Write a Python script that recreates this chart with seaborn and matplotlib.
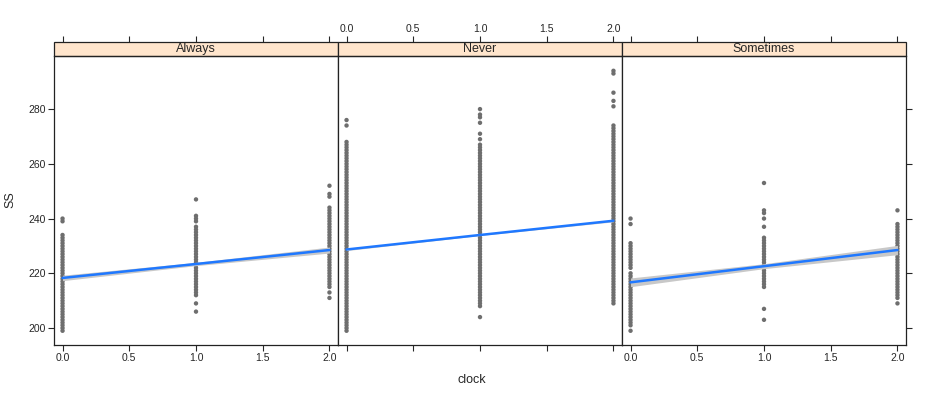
import numpy as np
import pandas as pd
import matplotlib
matplotlib.use("Agg")
import matplotlib.pyplot as plt
from matplotlib.patches import Rectangle
import seaborn as sns

panels = ["Always", "Never", "Sometimes"]
clock_levels = [0, 1, 2]
x_ticks = [0.0, 0.5, 1.0, 1.5, 2.0]
x_tick_labels = ["0.0", "0.5", "1.0", "1.5", "2.0"]
y_ticks = [200, 220, 240, 260, 280]

# SS values visible in each strip, per clock level 0 / 1 / 2
always_ss = [
    [199, 200, 201, 202, 203, 204, 205, 206, 207, 208, 209, 210, 211, 212, 213, 214, 215, 216, 217,
     218, 219, 220, 221, 222, 223, 224, 225, 226, 227, 228, 229, 230, 231, 232, 233, 234, 239, 240],
    [206, 209, 212, 213, 214, 215, 216, 217, 218, 219, 220, 221, 222, 223, 224, 225, 226, 227, 228,
     229, 230, 231, 232, 233, 234, 235, 236, 237, 239, 240, 241, 247],
    [211, 213, 215, 216, 217, 218, 219, 220, 221, 222, 223, 224, 225, 226, 227, 228, 229, 230, 231,
     232, 233, 234, 235, 236, 237, 238, 239, 240, 241, 242, 243, 244, 248, 249, 252],
]
never_ss = [
    [199, 200, 201, 202, 203, 204, 205, 206, 207, 208, 209, 210, 211, 212, 213, 214, 215, 216, 217,
     218, 219, 220, 221, 222, 223, 224, 225, 226, 227, 228, 229, 230, 231, 232, 233, 234, 235, 236,
     237, 238, 239, 240, 241, 242, 243, 244, 245, 246, 247, 248, 249, 250, 251, 252, 253, 254, 255,
     256, 257, 258, 259, 260, 261, 262, 263, 264, 265, 266, 267, 268, 274, 276],
    [204, 208, 209, 210, 211, 212, 213, 214, 215, 216, 217, 218, 219, 220, 221, 222, 223, 224, 225,
     226, 227, 228, 229, 230, 231, 232, 233, 234, 235, 236, 237, 238, 239, 240, 241, 242, 243, 244,
     245, 246, 247, 248, 249, 250, 251, 252, 253, 254, 255, 256, 257, 258, 259, 260, 261, 262, 263,
     264, 265, 266, 267, 269, 271, 275, 277, 278, 280],
    [209, 210, 211, 212, 213, 214, 215, 216, 217, 218, 219, 220, 221, 222, 223, 224, 225, 226, 227,
     228, 229, 230, 231, 232, 233, 234, 235, 236, 237, 238, 239, 240, 241, 242, 243, 244, 245, 246,
     247, 248, 249, 250, 251, 252, 253, 254, 255, 256, 257, 258, 259, 260, 261, 262, 263, 264, 265,
     266, 267, 268, 269, 270, 271, 272, 273, 274, 281, 283, 286, 293, 294],
]
sometimes_ss = [
    [199, 201, 202, 203, 204, 205, 206, 207, 208, 209, 210, 211, 212, 213, 214, 215, 216, 217, 218,
     219, 220, 222, 223, 224, 225, 226, 227, 228, 229, 230, 231, 238, 240],
    [203, 207, 215, 216, 217, 218, 219, 220, 221, 222, 223, 224, 225, 226, 227, 228, 229, 230, 231,
     232, 233, 237, 240, 242, 243, 253],
    [209, 211, 212, 213, 214, 215, 216, 217, 218, 219, 220, 221, 222, 223, 224, 225, 226, 227, 228,
     229, 230, 231, 232, 233, 234, 235, 236, 237, 238, 243],
]

# fitted line and confidence band at clock 0 / 1 / 2
always_fit = [218.3, 223.4, 228.5]
always_lo = [217.3, 222.8, 227.4]
always_hi = [219.3, 224.0, 229.6]
never_fit = [228.7, 234.0, 239.2]
never_lo = [228.3, 233.8, 238.8]
never_hi = [229.1, 234.2, 239.6]
sometimes_fit = [216.7, 222.6, 228.5]
sometimes_lo = [215.1, 221.7, 226.8]
sometimes_hi = [218.3, 223.5, 230.2]

rows = []
for name, groups in zip(panels, [always_ss, never_ss, sometimes_ss]):
    for clk, vals in zip(clock_levels, groups):
        for v in vals:
            rows.append({"panel": name, "clock": clk, "SS": v})
df = pd.DataFrame(rows)

fit_df = pd.DataFrame({
    "panel": np.repeat(panels, 3),
    "clock": clock_levels * 3,
    "fit": always_fit + never_fit + sometimes_fit,
    "lo": always_lo + never_lo + sometimes_lo,
    "hi": always_hi + never_hi + sometimes_hi,
})

sns.set_style("white")
plt.rcParams["font.family"] = ["Liberation Sans", "DejaVu Sans"]

g = sns.FacetGrid(df, col="panel", col_order=panels, sharex=True, sharey=True,
                  despine=False, height=3, aspect=1)
g.map_dataframe(sns.scatterplot, x="clock", y="SS", color="#6e6e6e", s=10,
                linewidth=0, edgecolor="none")

fig = g.figure
fig.set_size_inches(9.36, 3.96)
fig.set_dpi(100)

left, width = 54 / 936, 284 / 936
bottom, height = 1 - 345 / 396, 289 / 396
strip_h = 14 / 289

for i, (ax, name) in enumerate(zip(g.axes.flat, panels)):
    sub = fit_df[fit_df["panel"] == name]
    ax.fill_between(sub["clock"], sub["lo"], sub["hi"], color="#c8c8c8", lw=0, zorder=3)
    sns.lineplot(data=sub, x="clock", y="fit", ax=ax, color="#1f78ff", lw=1.8, zorder=4)

    ax.set_position([left + i * width, bottom, width, height])
    ax.set_xlim(-0.064, 2.064)
    ax.set_ylim(193.8, 299.4)
    ax.set_title("")
    ax.set_xlabel("")
    ax.set_ylabel("")
    for sp in ax.spines.values():
        sp.set_color("#222222")
        sp.set_linewidth(0.9)

    ax.add_patch(Rectangle((0, 1), 1, strip_h, transform=ax.transAxes, clip_on=False,
                           facecolor="#ffe5cc", edgecolor="#222222", lw=0.9))
    ax.text(0.5, 1 + strip_h / 2, name, transform=ax.transAxes, ha="center",
            va="center", fontsize=9)

    ax.set_xticks(x_ticks)
    ax.set_xticklabels(x_tick_labels)
    ax.tick_params(axis="x", direction="out", length=4, width=0.8, labelsize=7.5,
                   bottom=True, labelbottom=(i != 1), pad=2)
    ax.set_yticks(y_ticks)
    if i == 0:
        ax.tick_params(axis="y", direction="out", length=4, width=0.8, labelsize=7.5,
                       left=True, labelleft=True, right=False, pad=2)
    elif i == 2:
        ax.tick_params(axis="y", direction="out", length=4, width=0.8, left=False,
                       labelleft=False, right=True, labelright=False)
    else:
        ax.tick_params(axis="y", left=False, labelleft=False, right=False)

    top = ax.secondary_xaxis(1 + strip_h)
    top.set_xticks(x_ticks)
    top.set_xticklabels(x_tick_labels if i == 1 else [])
    top.tick_params(direction="out", length=4, width=0.8, labelsize=7.5, pad=2)
    top.spines["top"].set_visible(False)

fig.text(472 / 936, 1 - 380 / 396, "clock", ha="center", va="center", fontsize=9)
fig.text(10 / 936, 1 - 200 / 396, "SS", ha="center", va="center", rotation=90, fontsize=9)

fig.savefig("out.png", dpi=100)
